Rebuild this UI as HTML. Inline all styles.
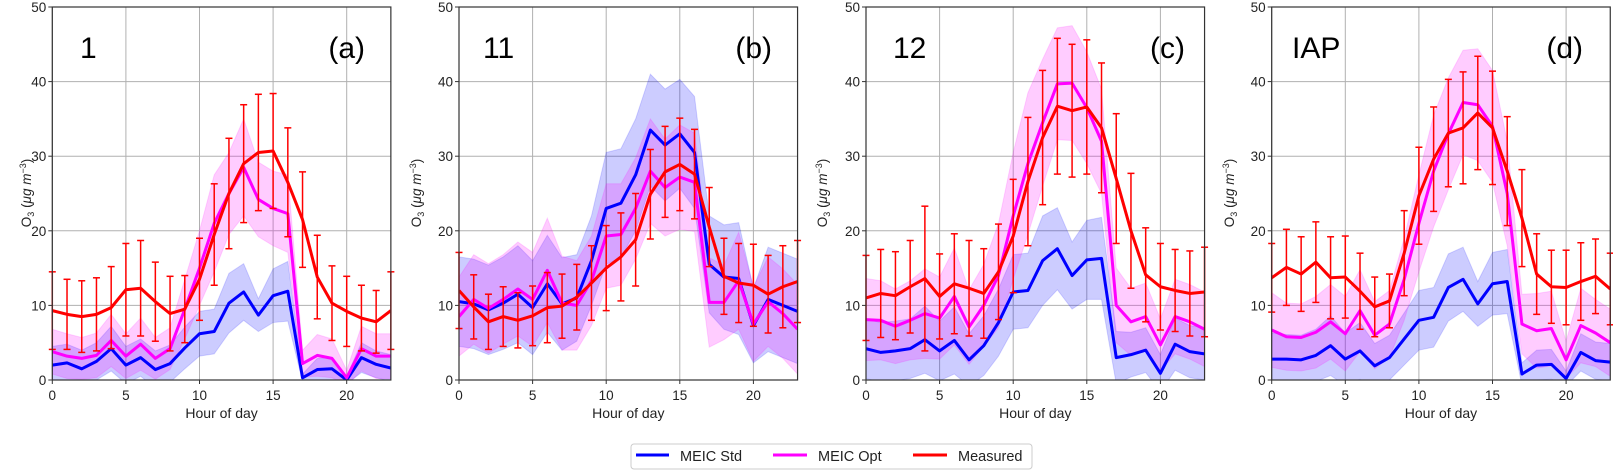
<!DOCTYPE html>
<html><head><meta charset="utf-8"><style>
html,body{margin:0;padding:0;background:#fff}
svg{display:block;font-family:"Liberation Sans",sans-serif}
</style></head><body>
<svg id="chart" width="1613" height="472" viewBox="0 0 1613 472" xmlns="http://www.w3.org/2000/svg">
<g id="panels"></g>
<g>
<rect x="631" y="444" width="401" height="25" rx="3" fill="#fff" stroke="#ccc"/>
<g><line x1="636" y1="455" x2="669" y2="455" stroke="#0000ff" stroke-width="3"/><text x="680" y="461" font-size="14.5" fill="#222">MEIC Std</text></g>
<g><line x1="773" y1="455" x2="807" y2="455" stroke="#ff00ff" stroke-width="3"/><text x="818" y="461" font-size="14.5" fill="#222">MEIC Opt</text></g>
<g><line x1="913" y1="455" x2="947" y2="455" stroke="#ff0000" stroke-width="3"/><text x="958" y="461" font-size="14.5" fill="#222">Measured</text></g>
</g>
</svg>
<script>
const hours = [0,1,2,3,4,5,6,7,8,9,10,11,12,13,14,15,16,17,18,19,20,21,22,23];
const xTicks = [0,5,10,15,20];
const yTicks = [0,10,20,30,40,50];
const siteNames = ["1","11","12","IAP"];
const panelTags = ["(a)","(b)","(c)","(d)"];

const stdA = [2,2.3,1.5,2.5,4.2,2,3,1.4,2.2,4.3,6.2,6.5,10.3,11.8,8.7,11.3,11.9,0.3,1.4,1.5,0,3,2.1,1.6];
const stdSpreadA = [2.5,2.5,2.5,2.5,3,2.5,2.5,2.5,2.5,2.8,3,3,4,3.8,2.2,3.6,4,0.5,1.5,1.5,0.5,2,1.8,1.8];
const optA = [3.8,3.2,2.9,3.3,5.3,3.2,4.8,2.9,4.2,9.5,15,21,25,28.5,24.2,23,22.3,2.2,3.3,2.9,0.3,4.2,3.2,3.2];
const optSpreadA = [3,3,2.8,3,3.5,3,3.5,2.8,2.8,4,5,6.5,5.5,6.5,5,5,5.2,1.8,2.8,2.6,1,3,3,3];
const measA = [9.3,8.8,8.5,8.8,9.7,12.1,12.3,10.5,8.9,9.5,13.5,19.5,25,29,30.5,30.7,26.5,21.5,13.8,10.3,9.2,8.3,7.8,9.3];
const errA = [5.2,4.7,4.8,4.9,5.5,6.2,6.4,5.3,5,4.5,5.5,6.8,7.4,7.9,7.8,7.7,7.3,6.4,5.6,5,4.7,4.4,4.2,5.2];

const stdB = [10.5,10.2,9.4,10.3,11.5,9.7,12.9,10.2,11,16,23,23.7,27.5,33.5,31.5,33,30.5,15.5,13.8,13.6,7.3,10.8,10,9.2];
const stdSpreadB = [6,6,6,6.2,6.5,6.3,6.5,6.2,5.8,6,7.5,7.3,7.5,7.5,7.5,7.3,7.5,6.5,7,7.5,5,7,7,7];
const optB = [8.5,10.8,9.6,10.8,12.2,10.8,14.7,10.3,10,13.3,19.3,19.5,23,28,25.8,27.2,26.5,10.4,10.4,13.3,7.5,10.5,8.9,6.8];
const optSpreadB = [5.3,6,6,6,6.3,6.3,7,6.3,6,6,7,6.8,6.8,7,6.5,7,6.6,6,5,6.5,5,6,6,6];
const measB = [12,9.8,7.8,8.5,8,8.6,9.7,9.9,11.1,13,15,16.5,18.8,24.9,27.9,28.9,27.6,20.5,13.9,13,12.7,11.5,12.5,13.2];
const errB = [5.1,4.3,3.7,4,3.7,4,4.7,4.3,4.4,5,5.7,5.9,6.2,6,6.1,6.2,6,5.3,5.1,5.3,5.5,5.2,5.5,5.5];

const stdC = [4.2,3.7,3.9,4.2,5.4,3.9,5.3,2.7,4.6,7.7,11.8,12,16,17.6,14,16.1,16.3,3,3.4,4,0.9,4.8,3.8,3.5];
const stdSpreadC = [4,4,4,4,4.5,4,4.5,3.5,4,4.5,5,5,6,5.5,4.5,5.3,5.5,3.5,3,3,2.5,3.5,3.5,3.5];
const optC = [8.1,8,7.2,8,8.9,8.3,11.2,7.1,10,14,22,29,34.5,39.7,39.8,36.5,32,10,7.8,8.5,4.7,8.5,7.8,6.8];
const optSpreadC = [5.5,5.3,5,5.3,6,5.5,6.5,5,5.5,7,8.5,9.5,8.5,7.5,7.7,7.5,7,5,4.5,4.5,3.5,5,5,5];
const measC = [11,11.6,11.3,12.5,13.6,11.2,12.9,12.3,11.6,14.5,19.3,26.6,32.5,36.7,36.1,36.6,33.8,27,20,14.1,12.5,12,11.6,11.8];
const errC = [5.7,5.9,5.9,6.2,9.7,5.7,6.7,6.4,6,6.4,7.6,8.6,9,9.1,8.9,9,8.7,8.7,7.7,6.3,5.8,5.5,5.7,6];

const stdD = [2.8,2.8,2.7,3.3,4.6,2.8,3.9,1.9,3,5.5,8,8.4,12.4,13.5,10.2,12.9,13.2,0.8,2,2.1,0.2,3.7,2.6,2.4];
const stdSpreadD = [3.5,3.3,3.3,3.5,4,3.5,3.8,3,3,3.5,4,4,4.5,4.3,3,4.2,4.3,1.5,2,2,1,2.5,2.5,2.5];
const optD = [6.7,5.8,5.7,6.4,7.8,6.2,9.3,6,7.5,13.5,21,28,33,37.2,36.9,34,25,7.5,6.6,6.9,2.7,7.3,6.3,5];
const optSpreadD = [5,4.5,4.5,4.8,5,5,5.5,4.5,4.5,5.5,6.5,7.5,7.5,7,7.5,7.5,7,4,5,5,2.5,5,4.5,4.5];
const measD = [13.7,15.1,14.2,15.8,13.7,13.8,11.9,9.8,10.6,17,24.7,29.6,33.1,33.8,35.8,33.8,28,21.7,14.2,12.5,12.4,13.2,13.9,12.2];
const errD = [4.6,5.1,5,5.4,5.5,5.5,5.1,4,3.6,5.7,6.5,7,7.2,7.5,7.6,7.6,7.3,6.5,5.4,4.9,5,5.2,5,4.8];

const panels = [
 {x0:52.3, ylab:27, title:80, tagR:365, std:stdA, stdS:stdSpreadA, opt:optA, optS:optSpreadA, meas:measA, err:errA},
 {x0:459, ylab:417, title:483, tagR:772, std:stdB, stdS:stdSpreadB, opt:optB, optS:optSpreadB, meas:measB, err:errB},
 {x0:866, ylab:823, title:893, tagR:1185, std:stdC, stdS:stdSpreadC, opt:optC, optS:optSpreadC, meas:measC, err:errC},
 {x0:1271.7, ylab:1230, title:1292, tagR:1583, std:stdD, stdS:stdSpreadD, opt:optD, optS:optSpreadD, meas:measD, err:errD}
];
const NS = "http://www.w3.org/2000/svg";
const Y0 = 380, YTOP = 7, PXH = 294.4/20;
function mk(tag, attrs, parent){const e=document.createElementNS(NS,tag);for(const k in attrs)e.setAttribute(k,attrs[k]);parent.appendChild(e);return e;}
const root = document.getElementById('panels');
panels.forEach((p,i)=>{
  const X = h => p.x0 + h*PXH;
  const Y = v => Y0 - (v/50)*(Y0-YTOP);
  const x1 = X(23);
  const g = mk('g',{},root);
  
  
  const cp = mk('clipPath',{id:'cp'+i},g);
  mk('rect',{x:p.x0,y:YTOP,width:x1-p.x0,height:Y0-YTOP},cp);
  // grid
  const grid = mk('g',{stroke:'#b0b0b0','stroke-width':1},g);
  
  
  xTicks.forEach(t=>mk('line',{x1:X(t),x2:X(t),y1:YTOP,y2:Y0},grid));
  yTicks.forEach(t=>mk('line',{x1:p.x0,x2:x1,y1:Y(t),y2:Y(t)},grid));
  const plot = mk('g',{'clip-path':'url(#cp'+i+')'},g);
  function band(vals,spread,color,name){
    let up=hours.map((h,k)=>X(h)+','+Y(vals[k]+spread[k]));
    let lo=hours.map((h,k)=>X(h)+','+Y(vals[k]-spread[k])).reverse();
    const e=mk('polygon',{points:up.concat(lo).join(' '),fill:color,'fill-opacity':0.2,stroke:color,'stroke-opacity':0.15},plot);
    
    
  }
  function line(vals,color,name){
    const e=mk('polyline',{points:hours.map((h,k)=>X(h)+','+Y(vals[k])).join(' '),fill:'none',stroke:color,'stroke-width':3,'stroke-linejoin':'round'},plot);
    
    
  }
  band(p.std,p.stdS,'#0000ff','meic-std-band');
  band(p.opt,p.optS,'#ff00ff','meic-opt-band');
  line(p.std,'#0000ff','meic-std-line');
  line(p.opt,'#ff00ff','meic-opt-line');
  const eb = mk('g',{stroke:'#ff0000','stroke-width':1.5},g);
  
  
  hours.forEach((h,k)=>{
    const a=Y(p.meas[k]+p.err[k]), b=Y(p.meas[k]-p.err[k]), x=X(h);
    mk('line',{x1:x,x2:x,y1:a,y2:b},eb);
    mk('line',{x1:x-3.5,x2:x+3.5,y1:a,y2:a},eb);
    mk('line',{x1:x-3.5,x2:x+3.5,y1:b,y2:b},eb);
  });
  line(p.meas,'#ff0000','measured-line');
  // spines
  const sp = mk('rect',{x:p.x0,y:YTOP,width:x1-p.x0,height:Y0-YTOP,fill:'none',stroke:'#333','stroke-width':1.2},g);
  
  
  const ax = mk('g',{'font-size':13.5,fill:'#222'},g);
  
  
  xTicks.forEach(t=>{
    mk('line',{x1:X(t),x2:X(t),y1:Y0,y2:Y0+4,stroke:'#333'},ax);
    const tx=mk('text',{x:X(t),y:Y0+20,'text-anchor':'middle'},ax); tx.textContent=t;
  });
  yTicks.forEach(t=>{
    mk('line',{x1:p.x0-4,x2:p.x0,y1:Y(t),y2:Y(t),stroke:'#333'},ax);
    const tx=mk('text',{x:p.x0-6,y:Y(t)+5,'text-anchor':'end'},ax); tx.textContent=t;
  });
  const xl=mk('text',{x:(p.x0+x1)/2,y:418,'text-anchor':'middle','font-size':14,fill:'#222'},g);
  xl.textContent='Hour of day';
  
  
  const yl=mk('text',{x:0,y:0,'text-anchor':'middle','font-size':13.5,fill:'#222',transform:'translate('+(p.ylab+4)+',193) rotate(-90)'},g);
  yl.innerHTML='O<tspan font-size="9" dy="3">3</tspan><tspan dy="-3"> (</tspan><tspan font-style="italic">μg m</tspan><tspan font-size="9" dy="-5">−3</tspan><tspan dy="5">)</tspan>';
  
  
  const tt=mk('text',{x:p.title,y:58,'font-size':30,fill:'#000'},g);
  tt.textContent=siteNames[i];
  
  
  const tg=mk('text',{x:p.tagR,y:58,'font-size':30,fill:'#000','text-anchor':'end'},g);
  tg.textContent=panelTags[i];
  
  
});
</script>
</body></html>
